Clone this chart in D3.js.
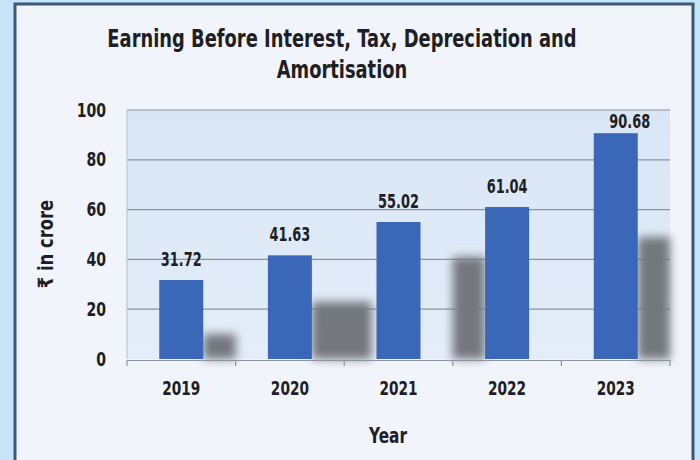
<!DOCTYPE html>
<html>
<head>
<meta charset="utf-8">
<script src="https://cdn.jsdelivr.net/npm/d3@7"></script>
<style>
  html, body { margin: 0; padding: 0; background: #c6e4f8; }
  svg { display: block; }
  text { font-family: "DejaVu Sans", "Roboto", sans-serif; font-weight: bold; fill: #1e1e24; }
</style>
</head>
<body>
<svg id="chart" width="700" height="460"></svg>
<script>
const years = ["2019", "2020", "2021", "2022", "2023"];
const ebitda = [31.72, 41.63, 55.02, 61.04, 90.68];
const yTicks = [0, 20, 40, 60, 80, 100];
const titleLines = ["Earning Before Interest, Tax, Depreciation and", "Amortisation"];
const xTitle = "Year";
const yTitle = "₹ in crore";
// blurred photo shadows (value heights) seen behind bars
const shadowYears = ["2019", "2020", "2022", "2023"];
const shadowValues = [10, 23, 41, 49];

const W = 700, H = 460;
const svg = d3.select("#chart");
const defs = svg.append("defs");
const grad = defs.append("linearGradient").attr("id", "plotbg").attr("x1", 0).attr("y1", 0).attr("x2", 0).attr("y2", 1);
grad.append("stop").attr("offset", "0%").attr("stop-color", "#d9e6f6");
grad.append("stop").attr("offset", "100%").attr("stop-color", "#e4edf9");
defs.append("filter").attr("id", "blur").attr("x", "-50%").attr("y", "-50%").attr("width", "200%").attr("height", "200%")
  .append("feGaussianBlur").attr("stdDeviation", 5);

// condense text horizontally to mimic a narrow DIN-like face
function condense(sel, factor) {
  sel.each(function () {
    const len = this.getComputedTextLength();
    d3.select(this).attr("textLength", len * factor).attr("lengthAdjust", "spacingAndGlyphs");
  });
}

// panel
svg.append("rect").attr("x", 15).attr("y", 4).attr("width", 678).attr("height", H + 10)
  .attr("fill", "#f1f4fb").attr("stroke", "#3b5877").attr("stroke-width", 3);

const m = { left: 127, right: 670, top: 110, bottom: 359 };
const x = d3.scaleBand().domain(years).range([m.left, m.right]).paddingInner(0.595).paddingOuter(0.297);
const xb = d3.scaleBand().domain(years).range([m.left, m.right]);
const y = d3.scaleLinear().domain([0, 100]).range([m.bottom, m.top]);

svg.append("rect").attr("x", m.left).attr("y", m.top).attr("width", m.right - m.left).attr("height", m.bottom - m.top)
  .attr("fill", "url(#plotbg)");

// grid
svg.append("g").selectAll("line").data(yTicks.filter(d => d > 0)).join("line")
  .attr("x1", m.left).attr("x2", m.right).attr("y1", d => y(d)).attr("y2", d => y(d))
  .attr("stroke", "#8e949c").attr("stroke-width", 1.2);
svg.append("line").attr("x1", m.left).attr("x2", m.left).attr("y1", m.top).attr("y2", m.bottom)
  .attr("stroke", "#b8c2cf").attr("stroke-width", 1);

// shadows
const shadowG = svg.append("g").attr("filter", "url(#blur)");
shadowYears.forEach((yr, i) => {
  let x0, x1;
  if (yr === "2022") { x1 = x(yr); x0 = x1 - xb.bandwidth() * 0.3; }
  else if (yr === "2020") { x0 = x(yr) + x.bandwidth(); x1 = x0 + xb.bandwidth() * 0.55; }
  else { x0 = x(yr) + x.bandwidth(); x1 = Math.min(x0 + xb.bandwidth() * 0.3, m.right); }
  shadowG.append("rect").attr("x", x0).attr("y", y(shadowValues[i]))
    .attr("width", x1 - x0).attr("height", y(0) - y(shadowValues[i]))
    .attr("fill", "#74777e");
});

// bars
svg.append("g").selectAll("rect").data(years).join("rect")
  .attr("x", d => x(d)).attr("width", x.bandwidth())
  .attr("y", (d, i) => y(ebitda[i])).attr("height", (d, i) => y(0) - y(ebitda[i]))
  .attr("fill", "#3a67b7");

// value labels (nudged right/down when they would hit the top border)
const crowded = v => y(v) - 14 < m.top + 15;
svg.append("g").selectAll("text").data(years).join("text")
  .attr("x", (d, i) => x(d) + x.bandwidth() / 2 + (crowded(ebitda[i]) ? 14 : 0))
  .attr("y", (d, i) => y(ebitda[i]) - (crowded(ebitda[i]) ? 5 : 14))
  .attr("text-anchor", "middle").attr("font-size", 19)
  .text((d, i) => ebitda[i].toFixed(2))
  .call(condense, 0.68);

// x axis
const xAxis = svg.append("g").attr("transform", `translate(0,${m.bottom + 1})`)
  .call(d3.axisBottom(xb).tickSize(0).tickPadding(22));
xAxis.select(".domain").attr("stroke", "#8e949c").attr("stroke-width", 1.2);
xAxis.selectAll("text").attr("font-size", 19).attr("fill", "#1e1e24").call(condense, 0.72);
svg.append("g").selectAll("line").data(years.concat(["end"])).join("line")
  .attr("x1", d => d === "end" ? m.right : xb(d)).attr("x2", d => d === "end" ? m.right : xb(d))
  .attr("y1", m.bottom + 1).attr("y2", m.bottom + 7)
  .attr("stroke", "#8e949c").attr("stroke-width", 1.2);

// y axis labels
const yAxis = svg.append("g").attr("transform", `translate(${m.left},0)`)
  .call(d3.axisLeft(y).tickValues(yTicks).tickSize(0).tickPadding(21));
yAxis.select(".domain").remove();
yAxis.selectAll("text").attr("font-size", 19).attr("fill", "#1e1e24").call(condense, 0.74);

// titles (horizontally scaled group)
svg.append("g").attr("transform", "translate(342,0) scale(0.745,1)")
  .selectAll("text").data(titleLines).join("text")
  .attr("x", 0).attr("y", (d, i) => 47 + i * 31)
  .attr("text-anchor", "middle").attr("font-size", 24).text(d => d);

svg.append("text").attr("x", 388).attr("y", 443).attr("text-anchor", "middle")
  .attr("font-size", 21).text(xTitle).call(condense, 0.73);
svg.append("text").attr("transform", "translate(53,244) rotate(-90)").attr("text-anchor", "middle")
  .attr("font-size", 21).text(yTitle).call(condense, 0.78);
</script>
</body>
</html>
